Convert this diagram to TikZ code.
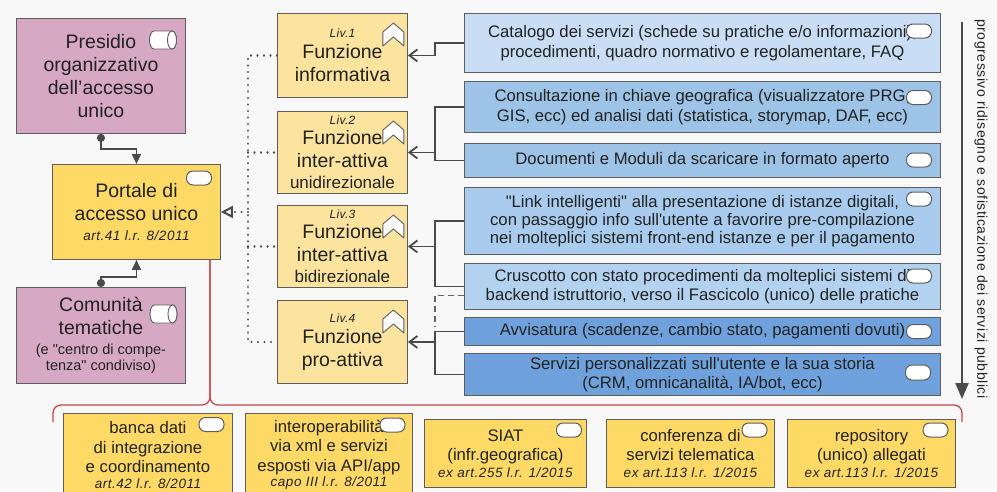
\documentclass[tikz,border=0pt]{standalone}
\usepackage{fontspec}
\setmainfont{Liberation Sans}[Ligatures=TeXOff]
\usetikzlibrary{arrows.meta,shapes.geometric,calc}
\definecolor{bgc}{HTML}{F8F8F8}
\definecolor{pinkc}{HTML}{D6A8C4}
\definecolor{yelc}{HTML}{FFD966}
\definecolor{fyc}{HTML}{FCE39E}
\definecolor{b1c}{HTML}{C9DEF4}
\definecolor{b2c}{HTML}{9DC3E6}
\definecolor{b3c}{HTML}{A9CCEE}
\definecolor{b4c}{HTML}{B3D2F0}
\definecolor{b5c}{HTML}{6FA2DC}
\definecolor{bordc}{HTML}{5E5E5E}
\definecolor{linec}{HTML}{4A4A4A}
\definecolor{redc}{HTML}{C9464B}
\definecolor{txtc}{HTML}{222222}
\newcommand\bigf{\fontsize{19.5}{23}\selectfont}
\newcommand\medf{\fontsize{16.7}{19.5}\selectfont}
\newcommand\smf{\fontsize{14.5}{16}\selectfont}
\newcommand\itf{\fontsize{13.5}{16}\selectfont\itshape\addfontfeatures{LetterSpace=4}}
\newcommand\livf{\fontsize{12}{14}\selectfont\itshape\addfontfeatures{LetterSpace=3}}
\newcommand\chevat[1]{\draw[chev] #1 ++(-25,33) -- ++(0,-14) -- ++(10.5,-9) -- ++(10.5,9) -- ++(0,14) -- ++(-10.5,-9) -- cycle;}
\newcommand\cylat[1]{%
  \draw[chev] ($#1+(-9,-9)$) -- ($#1+(9,-9)$) arc[start angle=90, end angle=-90, x radius=4.5pt, y radius=9pt] -- ($#1+(-9,9)$) arc[start angle=270, end angle=90, x radius=4.5pt, y radius=9pt] -- cycle;
  \draw[chev] ($#1+(9,0)$) ellipse[x radius=4.5pt, y radius=9pt];}
\tikzset{
  box/.style={rectangle, anchor=north west, inner sep=0pt, align=center, line width=0.9pt, draw=bordc, text=txtc},
  pinkbox/.style={box, fill=pinkc, font=\bigf, minimum width=169pt},
  ylbox/.style={box, fill=yelc},
  fnbox/.style={box, fill=fyc, font=\bigf, minimum width=130pt},
  bluebox/.style={box, fill=#1, font=\medf, minimum width=476pt},
  botbox/.style={box, fill=yelc, font=\medf},
  pill/.style={rectangle, rounded corners=6.5pt, draw=bordc, fill=white, line width=1pt, minimum width=25pt, minimum height=14pt, inner sep=0pt},
  chev/.style={draw=bordc, fill=white, line width=0.9pt, line join=round},
  conn/.style={draw=linec, line width=1.8pt},
  arr/.style={-{Straight Barb[length=8pt,width=12pt]}},
  dotl/.style={draw=linec, line width=2.3pt, dash pattern=on 0.01pt off 6.5pt, line cap=round},
}
\begin{document}
\begin{tikzpicture}[x=1pt,y=-1pt]
\useasboundingbox (0,0) rectangle (997,491);
\fill[bgc] (0,0) rectangle (997,491);

% left column
\node[pinkbox, minimum height=115pt] (pres) at (16,18) {Presidio\\organizzativo\\dell’accesso\\unico};
\node[ylbox, font=\bigf, minimum width=168pt, minimum height=95pt] (port) at (52,164) {Portale di\\accesso unico\\[-3pt]{\itf art.41 l.r. 8/2011}};
\node[pinkbox, minimum height=96pt] (com) at (16,287) {Comunità\\tematiche\\[-3pt]{\smf (e "centro di compe-}\\[-7pt]{\smf tenza" condiviso)}};
\coordinate (cy1) at (163,40);
\coordinate (cy2) at (163.5,314);
\cylat{(cy1)}
\cylat{(cy2)}
\node[pill] (pp) at (199,178) {};

% function boxes
\node[fnbox, minimum height=84pt] (f1) at (277,13) {{\livf Liv.1}\\[-2pt]Funzione\\informativa};
\node[fnbox, minimum height=82pt] (f2) at (277,111) {{\livf Liv.2}\\[-3pt]Funzione\\inter-attiva\\[-2pt]{\fontsize{17}{19}\selectfont unidirezionale}};
\node[fnbox, minimum height=82pt] (f3) at (277,205) {{\livf Liv.3}\\[-3pt]Funzione\\inter-attiva\\[-2pt]{\fontsize{17}{19}\selectfont bidirezionale}};
\node[fnbox, minimum height=83pt] (f4) at (277,300) {{\livf Liv.4}\\[-2pt]Funzione\\pro-attiva};
\chevat{(f1.north east)}
\chevat{(f2.north east)}
\chevat{(f3.north east)}
\chevat{(f4.north east)}

% blue boxes
\node[bluebox=b1c, minimum height=59pt] (cat) at (464,13) {Catalogo dei servizi (schede su pratiche e/o informazioni),\\procedimenti, quadro normativo e regolamentare, FAQ};
\node[bluebox=b2c, minimum height=51pt] (cons) at (464,81) {Consultazione in chiave geografica (visualizzatore PRG,\\GIS, ecc) ed analisi dati (statistica, storymap, DAF, ecc)};
\node[bluebox=b2c, minimum height=34pt] (doc) at (464,143) {Documenti e Moduli da scaricare in formato aperto};
\node[bluebox=b3c, minimum height=67pt, font=\fontsize{16.7}{18}\selectfont] (link) at (464,187) {"Link intelligenti" alla presentazione di istanze digitali,\\con passaggio info sull'utente a favorire pre-compilazione\\nei molteplici sistemi front-end istanze e per il pagamento};
\node[bluebox=b4c, minimum height=46pt] (cru) at (464,263) {Cruscotto con stato procedimenti da molteplici sistemi di\\backend istruttorio, verso il Fascicolo (unico) delle pratiche};
\node[bluebox=b5c, minimum height=28pt] (avv) at (464,317) {Avvisatura (scadenze, cambio stato, pagamenti dovuti)};
\node[bluebox=b5c, minimum height=42pt] (serv) at (464,353) {Servizi personalizzati sull'utente e la sua storia\\(CRM, omnicanalità, IA/bot, ecc)};
\node[pill] (p1) at (919,31) {};
\node[pill] (p2) at (919,97.5) {};
\node[pill] (p3) at (919,160) {};
\node[pill] (p4) at (919,199) {};
\node[pill] (p5) at (919,276) {};
\node[pill] (p6) at (919,331.5) {};
\node[pill, minimum height=15pt] (p7) at (918,372.5) {};

% bottom boxes
\node[botbox, minimum width=169pt, minimum height=83pt] (bb1) at (63,413) {banca dati\\di integrazione\\e coordinamento\\[-4pt]{\itf art.42 l.r. 8/2011}};
\node[botbox, minimum width=167pt, minimum height=83pt] (bb2) at (245,413) {interoperabilità\\via xml e servizi\\esposti via API/app\\[-4pt]{\itf capo III l.r. 8/2011}};
\node[botbox, minimum width=162pt, minimum height=68pt] (bb3) at (424,419) {SIAT\\(infr.geografica)\\[-3pt]{\itf ex art.255 l.r. 1/2015}};
\node[botbox, minimum width=168pt, minimum height=68pt] (bb4) at (606,419) {conferenza di\\servizi telematica\\[-3pt]{\itf ex art.113 l.r. 1/2015}};
\node[botbox, minimum width=168pt, minimum height=68pt] (bb5) at (787,419) {repository\\(unico) allegati\\[-3pt]{\itf ex art.113 l.r. 1/2015}};
\node[pill] (q1) at (211.5,424.5) {};
\node[pill] (q2) at (392.5,425) {};
\node[pill] (q3) at (569,430) {};
\node[pill] (q4) at (754.5,430) {};
\node[pill] (q5) at (935.5,430) {};

% connectors left
\draw[conn, {Circle[length=8pt]}-{Triangle[length=10pt,width=9pt]}] (pres.south) -- ++(0,15) -| (port.north);
\draw[conn, {Circle[length=8pt]}-{Triangle[length=10pt,width=9pt]}] (com.north) -- ++(0,-10) -| (port.south);

% buses
\coordinate (bus) at (435,0);
\coordinate (dbus) at (248,0);
\draw[conn, arr] (cat.west) -- (cat.west -| bus) -- (f1.east -| bus) -- (f1.east);
\draw[conn] (cons.west) -- (cons.west -| bus) -- (doc.west -| bus) -- (doc.west);
\draw[conn, arr] (f2.east -| bus) -- (f2.east);
\draw[conn] (link.west) -- (link.west -| bus) -- (cru.west -| bus) -- (cru.west);
\draw[conn, arr] (f3.east -| bus) -- (f3.east);
\draw[draw=linec!85, line width=1.8pt, dash pattern=on 6pt off 4pt] ($(cru.west)+(0,9)$) -- ($(cru.west -| bus)+(0,9)$) -- ($(avv.west -| bus)+(0,-4)$);
\draw[conn] (avv.west) -- (avv.west -| bus) -- (serv.west -| bus) -- (serv.west);
\draw[conn, arr] (f4.east -| bus) -- (f4.east);

% dotted
\draw[dotl] (f1.west) -- (f1.west -| dbus) -- (f4.west -| dbus) -- (f4.west);
\draw[dotl] (f2.west -| dbus) -- (f2.west);
\draw[dotl] (f3.west -| dbus) -- (f3.west);
\draw[dotl, -{Triangle[open, length=12pt, width=12pt, line width=2pt]}] (port.east -| dbus) -- (port.east);

% red brace
\coordinate (rt) at (port.south -| 210,0);
\draw[redc, line width=1.3pt, rounded corners=8pt] (53,422) -- (53,405) -- (210,405) -- (rt);
\draw[redc, line width=1.3pt, rounded corners=8pt] (rt) -- (210,405) -- (962,405) -- (962,422);

% right arrow + label
\coordinate (ar1) at (962,22);
\coordinate (ar2) at (962,399);
\draw[linec, line width=2.2pt, -{Triangle[length=16pt,width=13pt]}] (ar1) -- (ar2);
\node[rotate=-90, text=txtc, font=\fontsize{14}{16}\selectfont\addfontfeatures{LetterSpace=4}] (lbl) at (981,209) {progressivo ridisegno e sofisticazione dei servizi pubblici};
\end{tikzpicture}
\end{document}
